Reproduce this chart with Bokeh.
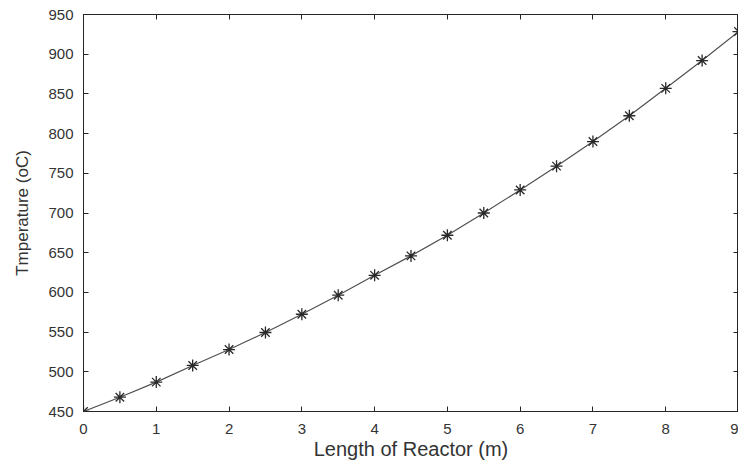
from bokeh.plotting import figure
from bokeh.models import Range1d, LinearAxis, FixedTicker
from bokeh.embed import file_html
from bokeh.resources import INLINE

length_m = [0, 0.5, 1, 1.5, 2, 2.5, 3, 3.5, 4, 4.5, 5, 5.5, 6, 6.5, 7, 7.5, 8, 8.5, 9]
temperature_c = [450, 468, 487, 508, 528, 549.5, 572.5, 596.5, 621.5, 646, 672, 700, 729, 759,
                 790, 822.5, 857, 892, 928.5]
x_ticks = [0, 1, 2, 3, 4, 5, 6, 7, 8, 9]
y_ticks = [450, 500, 550, 600, 650, 700, 750, 800, 850, 900, 950]

FONT = "Liberation Sans"
TXT = "#333333"

p = figure(width=738, height=462, output_backend="svg", toolbar_location=None,
           x_range=Range1d(0, 9), y_range=Range1d(450, 950),
           min_border_left=83, min_border_top=14, min_border_bottom=51, min_border_right=0)
p.grid.visible = False
p.outline_line_color = "#262626"
p.outline_line_width = 1

p.line(length_m, temperature_c, line_color="#505050", line_width=1.2)
p.scatter(length_m, temperature_c, marker="asterisk", size=12, line_color="#2a2a2a", line_width=1.3)

def style(ax):
    ax.major_tick_in = 5
    ax.major_tick_out = 0
    ax.minor_tick_line_color = None
    ax.axis_line_color = "#262626"
    ax.major_tick_line_color = "#262626"
    ax.major_label_text_font = FONT
    ax.major_label_text_color = TXT
    ax.major_label_text_font_size = "15px"
    ax.axis_label_text_font = FONT
    ax.axis_label_text_font_style = "normal"
    ax.axis_label_text_color = TXT

p.xaxis.ticker = FixedTicker(ticks=x_ticks)
p.yaxis.ticker = FixedTicker(ticks=y_ticks)
style(p.xaxis[0])
style(p.yaxis[0])
p.xaxis.axis_label = "Length of Reactor (m)"
p.yaxis.axis_label = "Tmperature (oC)"
p.xaxis.axis_label_text_font_size = "20px"
p.yaxis.axis_label_text_font_size = "17px"
p.xaxis.major_label_standoff = 12
p.xaxis.axis_label_standoff = 1
p.yaxis.major_label_standoff = 10
p.yaxis.axis_label_standoff = 13

top = LinearAxis(ticker=FixedTicker(ticks=x_ticks),
                 major_label_overrides={t: "" for t in x_ticks})
style(top)
top.major_label_standoff = 0
p.add_layout(top, "above")
right = LinearAxis(ticker=FixedTicker(ticks=y_ticks),
                   major_label_overrides={t: "" for t in y_ticks})
style(right)
right.major_label_standoff = 0
p.add_layout(right, "right")

open("out.html", "w").write(file_html(p, INLINE))
